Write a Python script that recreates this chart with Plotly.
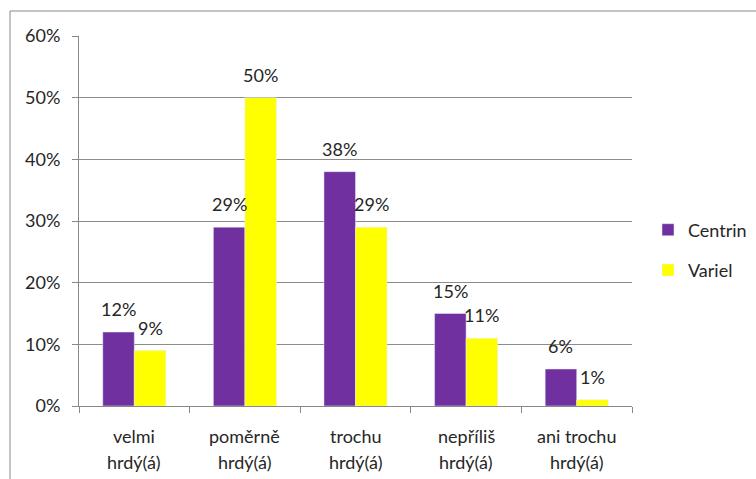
import plotly.graph_objects as go

categories = ["velmi hrdý(á)", "poměrně hrdý(á)", "trochu hrdý(á)", "nepříliš hrdý(á)", "ani trochu hrdý(á)"]
label_line1 = ["velmi", "poměrně", "trochu", "nepříliš", "ani trochu"]
label_line2 = ["hrdý(á)", "hrdý(á)", "hrdý(á)", "hrdý(á)", "hrdý(á)"]
centrin = [12, 29, 38, 15, 6]
variel = [9, 50, 29, 11, 1]
y_ticks = [0, 10, 20, 30, 40, 50, 60]
y_tick_labels = [f"{v}%" for v in y_ticks]

FONT = "Lato"
TXT = "#262626"
BARGAP = 0.43

fig = go.Figure()
fig.add_trace(go.Bar(name="Centrin", x=categories, y=centrin, marker_color="#7030A0",
                     legendgroup="a"))
fig.add_trace(go.Bar(name="Variel", x=categories, y=variel, marker_color="#FFFF00",
                     legendgroup="b"))

L, R, T, B = 79, 124, 36, 73
W, H = 756, 479
pw, ph = W - L - R, H - T - B
bar_w = pw / len(categories) * (1 - BARGAP) / 2

fig.update_layout(
    width=W, height=H,
    margin=dict(l=L, r=R, t=T, b=B, autoexpand=False),
    paper_bgcolor="white", plot_bgcolor="white",
    barmode="group", bargap=BARGAP, bargroupgap=0,
    font=dict(family=FONT, size=18, color=TXT),
    showlegend=True,
    legend=dict(xref="container", yref="container", x=648 / W, y=1 - 250 / H,
                xanchor="left", yanchor="middle", itemwidth=30,
                traceorder="grouped", tracegroupgap=14,
                font=dict(family=FONT, size=18, color=TXT)),
    xaxis=dict(showline=True, linecolor="#888888", linewidth=1,
               ticks="outside", tickson="boundaries", ticklen=6, tickcolor="#888888",
               showticklabels=False, showgrid=False),
    yaxis=dict(range=[0, 60], tickvals=y_ticks, ticktext=y_tick_labels,
               showline=True, linecolor="#888888", linewidth=1,
               ticks="outside", ticklen=6, tickcolor="#888888", ticklabelstandoff=8,
               showgrid=True, gridcolor="#8c8c8c", gridwidth=1, zeroline=False,
               tickfont=dict(family=FONT, size=18, color=TXT)),
)

# data labels above bars
for series, sign in ((centrin, -1), (variel, 1)):
    for cat, v in zip(categories, series):
        fig.add_annotation(x=cat, xref="x", y=v, yref="y", text=f"{v}%", showarrow=False,
                           xanchor="center", yanchor="bottom", xshift=sign * bar_w / 2,
                           yshift=10, font=dict(family=FONT, size=18, color=TXT))

# two-line category labels under the axis
for cat, l1, l2 in zip(categories, label_line1, label_line2):
    fig.add_annotation(x=cat, xref="x", y=0, yref="paper", text=l1, showarrow=False,
                       yanchor="middle", yshift=-30, font=dict(family=FONT, size=18, color=TXT))
    fig.add_annotation(x=cat, xref="x", y=0, yref="paper", text=l2, showarrow=False,
                       yanchor="middle", yshift=-56, font=dict(family=FONT, size=18, color=TXT))

# outer chart border
fig.add_shape(type="rect", xref="paper", yref="paper",
              x0=(10 - L) / pw, x1=(W + 5 - L) / pw,
              y0=(T + ph - (H + 5)) / ph, y1=(T + ph - 11) / ph,
              line=dict(color="#8a8a8a", width=1), fillcolor="rgba(0,0,0,0)", layer="below")

fig.write_html("out.html")
